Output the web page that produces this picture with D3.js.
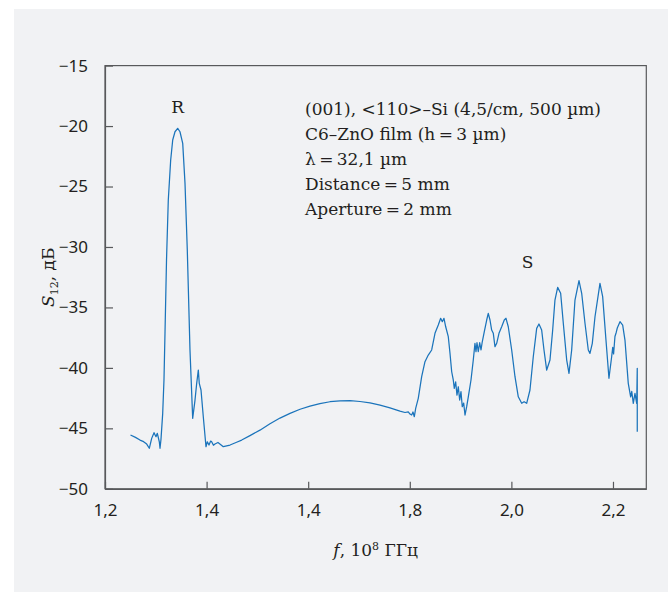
<!DOCTYPE html>
<html>
<head>
<meta charset="utf-8">
<script src="https://cdn.jsdelivr.net/npm/d3@7"></script>
<style>
  body { margin: 0; background: #fff; }
  svg { display: block; }
</style>
</head>
<body>
<div id="app"></div>
<script>
// measured curve, frequency in 10^8 GHz and S12 in dB
const freq = [
  1.2502, 1.2600, 1.2689, 1.2760, 1.2821, 1.2872, 1.2919, 1.2965, 1.3004, 1.3030,
  1.3069, 1.3083, 1.3102, 1.3136, 1.3161, 1.3181, 1.3211, 1.3246, 1.3293, 1.3333,
  1.3378, 1.3431, 1.3476, 1.3530, 1.3575, 1.3620, 1.3673, 1.3726, 1.3772, 1.3805,
  1.3837, 1.3856, 1.3890, 1.3935, 1.3988, 1.4014, 1.4047, 1.4080, 1.4100, 1.4135,
  1.4165, 1.4224, 1.4280, 1.4329, 1.4461, 1.4591, 1.4691, 1.4854, 1.5050, 1.5248,
  1.5445, 1.5642, 1.5840, 1.6035, 1.6230, 1.6429, 1.6626, 1.6823, 1.7020, 1.7217,
  1.7415, 1.7610, 1.7807, 1.7906, 1.7970, 1.8004, 1.8037, 1.8063, 1.8089,
  1.8116, 1.8167, 1.8234, 1.8299, 1.8364, 1.8431, 1.8496, 1.8561, 1.8608, 1.8640,
  1.8673, 1.8707, 1.8758, 1.8791, 1.8825, 1.8856, 1.8876, 1.8903, 1.8929, 1.8955,
  1.8982, 1.9008, 1.9033, 1.9061, 1.9087, 1.9120, 1.9152, 1.9205, 1.9250, 1.9283,
  1.9303, 1.9323, 1.9348, 1.9376, 1.9402, 1.9427, 1.9467, 1.9514, 1.9545, 1.9579,
  1.9612, 1.9644, 1.9677, 1.9711, 1.9756, 1.9809, 1.9860, 1.9894, 1.9939, 2.0006,
  2.0071, 2.0136, 2.0203, 2.0250, 2.0301, 2.0366, 2.0431, 2.0498, 2.0543, 2.0596,
  2.0642, 2.0695, 2.0760, 2.0813, 2.0858, 2.0911, 2.0970, 2.1022, 2.1089, 2.1134,
  2.1187, 2.1252, 2.1331, 2.1384, 2.1449, 2.1514, 2.1547, 2.1593, 2.1646, 2.1744,
  2.1797, 2.1862, 2.1921, 2.1974, 2.1995, 2.2012, 2.2039, 2.2065, 2.2085, 2.2138,
  2.2191, 2.2236, 2.2301, 2.2348, 2.2370, 2.2400, 2.2433, 2.2467, 2.2478, 2.2478
]
const s12 = [
  -45.55, -45.75, -45.97, -46.10, -46.30, -46.65, -45.83, -45.36, -45.69, -45.41,
  -46.11, -46.65, -45.91, -43.76, -41.00, -37.14, -31.08, -26.12, -22.81, -21.15,
  -20.47, -20.19, -20.47, -21.43, -24.74, -30.25, -38.52, -44.17, -42.66, -41.28,
  -40.18, -41.28, -41.83, -44.04, -46.52, -46.11, -46.38, -46.05, -46.11, -46.40,
  -46.30, -46.17, -46.35, -46.52, -46.38, -46.15, -45.97, -45.60, -45.15, -44.62,
  -44.15, -43.76, -43.42, -43.16, -42.95, -42.80, -42.72, -42.70, -42.78, -42.90,
  -43.08, -43.30, -43.57, -43.69, -43.63, -43.82, -43.90, -43.65, -44.04,
  -43.35, -42.52, -40.73, -39.49, -38.94, -38.52, -37.14, -36.46, -35.90, -36.18,
  -35.90, -36.60, -37.42, -38.77, -40.32, -41.00, -41.69, -41.15, -42.25, -41.56,
  -42.66, -41.97, -43.21, -42.91, -43.90, -43.21, -42.39, -41.00, -39.35, -37.97,
  -38.66, -37.92, -38.66, -37.92, -38.52, -37.84, -37.01, -36.04, -35.49, -36.04,
  -36.87, -37.14, -38.25, -37.97, -37.14, -36.60, -36.04, -35.90, -36.60, -38.52,
  -40.73, -42.39, -42.93, -42.80, -42.93, -41.83, -39.08, -36.73, -36.37, -36.87,
  -38.52, -40.18, -39.35, -36.87, -34.39, -33.34, -33.83, -36.31, -39.35, -40.45,
  -38.52, -34.39, -32.79, -33.83, -36.31, -38.52, -38.80, -37.97, -35.77, -33.01,
  -34.11, -37.70, -40.86, -39.08, -38.30, -38.85, -37.40, -37.05, -36.70, -36.18,
  -36.46, -37.70, -41.28, -42.39, -41.95, -42.93, -42.10, -42.93, -40.04, -45.28
]

const xTicks = [1.2, 1.4, 1.6, 1.8, 2.0, 2.2]
const xTickLabels = ['1,2', '1,4', '1,4', '1,8', '2,0', '2,2']
const yTicks = [-15, -20, -25, -30, -35, -40, -45, -50]

const peakLabels = [{name: 'R', f: 1.343, s: -18.9}, {name: 'S', f: 2.032, s: -31.7}]
const notes = [
  '(001), <110>–Si (4,5/cm, 500 µm)',
  'C6–ZnO film (h\u2009=\u20093 µm)',
  'λ\u2009=\u200932,1 µm',
  'Distance\u2009=\u20095 mm',
  'Aperture\u2009=\u20092 mm'
]

const W = 668, H = 592
const mLeft = 105, mRight = 646.3, mTop = 65.6, mBottom = 488.8
const axisColor = '#58595b', textColor = '#231f20', lineColor = '#1b74bb'
const sans = '"Noto Sans", sans-serif', serif = '"DejaVu Serif", serif'

const svg = d3.select('#app').append('svg').attr('width', W).attr('height', H)

// grey panel
svg.append('rect').attr('x', 14).attr('y', 9).attr('width', W - 14).attr('height', H - 9)
  .attr('fill', '#f1f2f4')

const x = d3.scaleLinear().domain([1.2, 2.2656]).range([mLeft, mRight])
const y = d3.scaleLinear().domain([-50, -15]).range([mBottom, mTop])

// frame
svg.append('rect').attr('x', mLeft).attr('y', mTop)
  .attr('width', mRight - mLeft).attr('height', mBottom - mTop)
  .attr('fill', 'none').attr('stroke', axisColor).attr('stroke-width', 1.2)

const xAxis = svg.append('g').attr('transform', `translate(0,${mBottom})`)
  .call(d3.axisBottom(x).tickValues(xTicks).tickSizeInner(-7).tickSizeOuter(0)
    .tickPadding(14).tickFormat((d, i) => xTickLabels[i]))
const yAxis = svg.append('g').attr('transform', `translate(${mLeft},0)`)
  .call(d3.axisLeft(y).tickValues(yTicks).tickSizeInner(-8).tickSizeOuter(0)
    .tickPadding(17).tickFormat(d => d3.format('d')(d).replace('-', '−')))

for (const a of [xAxis, yAxis]) {
  a.select('.domain').attr('stroke', axisColor).attr('stroke-width', 1.2)
  a.selectAll('.tick line').attr('stroke', axisColor).attr('stroke-width', 1.2)
  a.selectAll('.tick text').attr('fill', textColor)
    .style('font-family', sans).style('font-size', '17px')
}
xAxis.selectAll('.tick text').attr('dy', '0.71em').attr('y', 15)

// curve
const line = d3.line().x(i => x(freq[i])).y(i => y(s12[i]))
svg.append('path').datum(d3.range(freq.length)).attr('d', line)
  .attr('fill', 'none').attr('stroke', lineColor).attr('stroke-width', 1.25)
  .attr('stroke-linejoin', 'round')

// peak labels
svg.selectAll('text.peak').data(peakLabels).enter().append('text')
  .attr('class', 'peak')
  .attr('x', d => x(d.f)).attr('y', d => y(d.s))
  .attr('text-anchor', 'middle').attr('fill', textColor)
  .style('font-family', serif).style('font-size', '17px')
  .text(d => d.name)

// notes
svg.selectAll('text.note').data(notes).enter().append('text')
  .attr('class', 'note')
  .attr('x', 305).attr('y', (d, i) => 115 + i * 25)
  .attr('fill', textColor)
  .style('font-family', serif).style('font-size', '17px')
  .text(d => d)

// axis titles
const xt = svg.append('text').attr('x', (mLeft + mRight) / 2).attr('y', 556)
  .attr('text-anchor', 'middle').attr('fill', textColor)
  .style('font-family', serif).style('font-size', '17px')
xt.append('tspan').style('font-style', 'italic').text('f')
xt.append('tspan').text(', 10')
xt.append('tspan').attr('dy', -6).style('font-size', '11px').text('8')
xt.append('tspan').attr('dy', 6).text(' ГГц')

const yt = svg.append('text')
  .attr('transform', `translate(54,${(mTop + mBottom) / 2}) rotate(-90)`)
  .attr('text-anchor', 'middle').attr('fill', textColor)
  .style('font-family', serif).style('font-size', '17px')
yt.append('tspan').style('font-style', 'italic').text('S')
yt.append('tspan').attr('dy', 4).style('font-size', '11px').text('12')
yt.append('tspan').attr('dy', -4).text(', дБ')
</script>
</body>
</html>
